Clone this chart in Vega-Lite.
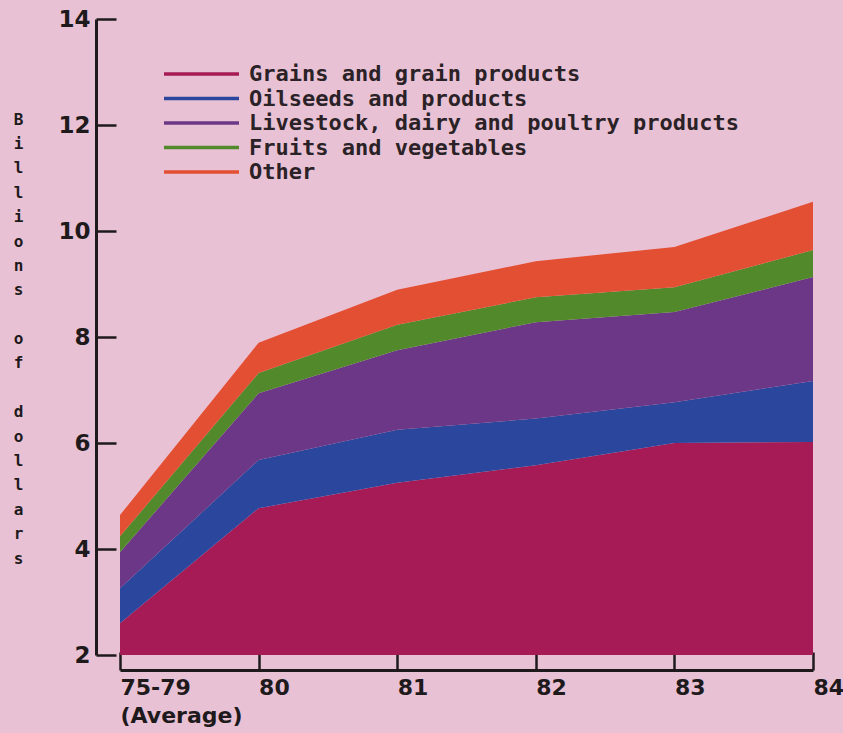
{
  "$schema": "https://vega.github.io/schema/vega-lite/v6.json",
  "autosize": {"type": "none"},
  "width": 693,
  "height": 636,
  "padding": {"left": 120, "top": 19, "right": 30, "bottom": 78},
  "background": "#e9c1d4",
  "view": {"stroke": null},
  "data": {
    "values": [
      {"year": "75-79", "k": 1, "cat": "Grains and grain products", "v": 2.60},
      {"year": "75-79", "k": 2, "cat": "Oilseeds and products", "v": 0.66},
      {"year": "75-79", "k": 3, "cat": "Livestock, dairy and poultry products", "v": 0.68},
      {"year": "75-79", "k": 4, "cat": "Fruits and vegetables", "v": 0.30},
      {"year": "75-79", "k": 5, "cat": "Other", "v": 0.40},
      {"year": "80", "k": 1, "cat": "Grains and grain products", "v": 4.77},
      {"year": "80", "k": 2, "cat": "Oilseeds and products", "v": 0.91},
      {"year": "80", "k": 3, "cat": "Livestock, dairy and poultry products", "v": 1.26},
      {"year": "80", "k": 4, "cat": "Fruits and vegetables", "v": 0.38},
      {"year": "80", "k": 5, "cat": "Other", "v": 0.57},
      {"year": "81", "k": 1, "cat": "Grains and grain products", "v": 5.25},
      {"year": "81", "k": 2, "cat": "Oilseeds and products", "v": 1.00},
      {"year": "81", "k": 3, "cat": "Livestock, dairy and poultry products", "v": 1.50},
      {"year": "81", "k": 4, "cat": "Fruits and vegetables", "v": 0.48},
      {"year": "81", "k": 5, "cat": "Other", "v": 0.66},
      {"year": "82", "k": 1, "cat": "Grains and grain products", "v": 5.58},
      {"year": "82", "k": 2, "cat": "Oilseeds and products", "v": 0.88},
      {"year": "82", "k": 3, "cat": "Livestock, dairy and poultry products", "v": 1.82},
      {"year": "82", "k": 4, "cat": "Fruits and vegetables", "v": 0.47},
      {"year": "82", "k": 5, "cat": "Other", "v": 0.68},
      {"year": "83", "k": 1, "cat": "Grains and grain products", "v": 6.00},
      {"year": "83", "k": 2, "cat": "Oilseeds and products", "v": 0.77},
      {"year": "83", "k": 3, "cat": "Livestock, dairy and poultry products", "v": 1.70},
      {"year": "83", "k": 4, "cat": "Fruits and vegetables", "v": 0.47},
      {"year": "83", "k": 5, "cat": "Other", "v": 0.76},
      {"year": "84", "k": 1, "cat": "Grains and grain products", "v": 6.02},
      {"year": "84", "k": 2, "cat": "Oilseeds and products", "v": 1.15},
      {"year": "84", "k": 3, "cat": "Livestock, dairy and poultry products", "v": 1.96},
      {"year": "84", "k": 4, "cat": "Fruits and vegetables", "v": 0.51},
      {"year": "84", "k": 5, "cat": "Other", "v": 0.91}
    ]
  },
  "mark": {"type": "area", "clip": true},
  "encoding": {
    "x": {
      "field": "year",
      "type": "ordinal",
      "sort": ["75-79", "80", "81", "82", "83", "84"],
      "scale": {"type": "point", "padding": 0},
      "axis": {
        "title": null,
        "offset": 15,
        "labelAngle": 0,
        "labelAlign": "left",
        "labelDx": -8,
        "labelFlush": false,
        "labelPadding": 25,
        "labelFontSize": 22,
        "labelExpr": "datum.label == '75-79' ? ['75-79', '(Average)'] : datum.label",
        "labelLineHeight": 28,
        "tickSize": -18,
        "tickWidth": 2.5,
        "domainWidth": 3,
        "grid": false
      }
    },
    "y": {
      "field": "v",
      "type": "quantitative",
      "stack": "zero",
      "scale": {"domain": [2, 14], "nice": false, "zero": false},
      "axis": {
        "values": [2, 4, 6, 8, 10, 12, 14],
        "offset": 24,
        "tickSize": -20,
        "tickWidth": 2.5,
        "domainWidth": 3,
        "labelPadding": 26,
        "grid": false,
        "title": ["B", "i", "l", "l", "i", "o", "n", "s", "\u200b", "o", "f", "\u200b", "d", "o", "l", "l", "a", "r", "s"],
        "titleAngle": 0,
        "titleAlign": "center",
        "titleBaseline": "top",
        "titleX": -78,
        "titleY": 92,
        "titleLineHeight": 24.4,
        "titleFont": "DejaVu Sans Mono",
        "titleFontSize": 16,
        "titleFontWeight": "bold",
        "titleColor": "#1e1a1c"
      }
    },
    "color": {
      "field": "cat",
      "type": "nominal",
      "scale": {
        "domain": ["Grains and grain products", "Oilseeds and products", "Livestock, dairy and poultry products", "Fruits and vegetables", "Other"],
        "range": ["#a61b55", "#2b479d", "#6b3786", "#528a2b", "#e34f33"]
      },
      "legend": {
        "title": null,
        "orient": "none",
        "legendX": 69.5,
        "legendY": 43,
        "symbolType": "M-3.75,0H3.75",
        "symbolSize": 400,
        "symbolStrokeWidth": 3.5,
        "labelFont": "DejaVu Sans Mono",
        "labelFontSize": 22,
        "labelFontWeight": "bold",
        "labelColor": "#2a2226",
        "labelLimit": 600,
        "labelOffset": 35.5,
        "rowPadding": 1.5,
        "encode": {
          "symbols": {"update": {"stroke": {"scale": "color", "field": "value"}}}
        }
      }
    },
    "order": {"field": "k", "type": "quantitative", "sort": "ascending"}
  },
  "config": {
    "font": "DejaVu Sans",
    "axis": {
      "labelFont": "DejaVu Sans",
      "labelFontSize": 23,
      "labelFontWeight": "bold",
      "labelColor": "#1e1a1c",
      "domainColor": "#1e1a1c",
      "tickColor": "#1e1a1c"
    }
  }
}
